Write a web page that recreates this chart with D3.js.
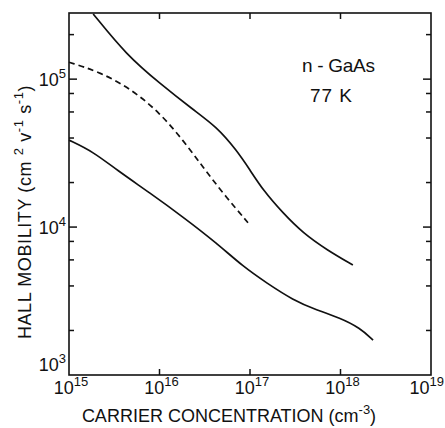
<!DOCTYPE html>
<meta charset="utf-8">
<head>
  <script src="https://d3js.org/d3.v7.min.js"></script>
  <style>
    html, body { margin: 0; padding: 0; background: #fff; }
    text { font-family: "Liberation Sans", Arial, sans-serif; fill: #111; }
    .curve { fill: none; stroke: #111; stroke-width: 1.7; }
  </style>
</head>
<body>
  <svg id="chart" width="445" height="428"></svg>
<script>
  // carrier concentration (cm^-3) / Hall mobility (cm^2 V^-1 s^-1)
  const upperConc = [1.85e15, 4.35e15, 1.01e16, 2.36e16, 4.28e16, 7.1e16, 1.0e17, 1.39e17, 2.32e17, 3.86e17, 7.1e17, 1.37e18]
  const upperMob = [2.76e5, 1.45e5, 9.35e4, 6.2e4, 4.76e4, 3.31e4, 2.43e4, 1.78e4, 1.24e4, 9.1e3, 7.0e3, 5.54e3]

  const dashConc = [1.0e15, 2.2e15, 5.1e15, 1.01e16, 1.82e16, 3.03e16, 5.0e16, 9.5e16]
  const dashMob = [1.30e5, 1.12e5, 8.4e4, 5.9e4, 3.87e4, 2.54e4, 1.70e4, 1.07e4]

  const lowerConc = [1.0e15, 1.85e15, 3.37e15, 7.85e15, 1.82e16, 4.28e16, 8.4e16, 1.53e17, 2.99e17, 5.46e17, 9.86e17, 1.64e18, 2.29e18]
  const lowerMob = [3.87e4, 3.23e4, 2.43e4, 1.70e4, 1.17e4, 7.8e3, 5.4e3, 4.19e3, 3.21e3, 2.75e3, 2.43e3, 2.08e3, 1.72e3]

  const xTickExp = [15, 16, 17, 18, 19]
  const yTickExp = [3, 4, 5]
  const yMinorTicks = [2e3, 4e3, 6e3, 8e3, 2e4, 4e4, 6e4, 8e4, 2e5]

  const svg = d3.select("#chart")
  const pLeft = 69, pRight = 431, pTop = 13, pBottom = 375

  const x = d3.scaleLog().domain([1e15, 1e19]).range([pLeft, pRight])
  const y = d3.scaleLog().domain([1e3, 2.8e5]).range([pBottom, pTop])

  // frame
  svg.append("rect")
    .attr("x", pLeft).attr("y", pTop)
    .attr("width", pRight - pLeft).attr("height", pBottom - pTop)
    .attr("fill", "none").attr("stroke", "#111").attr("stroke-width", 1.6)

  const ticks = svg.append("g").attr("stroke", "#111").attr("stroke-width", 1.5)
  xTickExp.slice(1, -1).forEach(e => {
    const px = x(Math.pow(10, e))
    ticks.append("line").attr("x1", px).attr("x2", px).attr("y1", pBottom).attr("y2", pBottom - 6)
    ticks.append("line").attr("x1", px).attr("x2", px).attr("y1", pTop).attr("y2", pTop + 6)
  })
  yTickExp.slice(1).forEach(e => {
    const py = y(Math.pow(10, e))
    ticks.append("line").attr("x1", pLeft).attr("x2", pLeft + 8).attr("y1", py).attr("y2", py)
    ticks.append("line").attr("x1", pRight).attr("x2", pRight - 8).attr("y1", py).attr("y2", py)
  })
  yMinorTicks.forEach(v => {
    const py = y(v)
    ticks.append("line").attr("x1", pLeft).attr("x2", pLeft + 5).attr("y1", py).attr("y2", py)
    ticks.append("line").attr("x1", pRight).attr("x2", pRight - 5).attr("y1", py).attr("y2", py)
  })

  // tick labels: 10 with superscript exponent
  function powerLabel(px, py, e, anchor) {
    const t = svg.append("text")
      .attr("x", px).attr("y", py)
      .attr("text-anchor", anchor)
      .attr("font-size", 18)
    t.append("tspan").text("10")
    t.append("tspan").attr("font-size", 13).attr("dy", -8).text(e)
  }
  xTickExp.forEach((e, i) => {
    if (i === xTickExp.length - 1) powerLabel(444, 394, e, "end")
    else powerLabel(x(Math.pow(10, e)) + 2, 394, e, "middle")
  })
  powerLabel(66, y(1e5) + 7, 5, "end")
  powerLabel(66, y(1e4) + 7, 4, "end")
  powerLabel(66, pBottom - 4, 3, "end")

  // curves
  const line = d3.line()
    .x(d => x(d[0]))
    .y(d => y(d[1]))
    .curve(d3.curveBasis)

  svg.append("path").attr("class", "curve")
    .attr("d", line(d3.zip(upperConc, upperMob)))
  svg.append("path").attr("class", "curve")
    .attr("stroke-dasharray", "6,4")
    .attr("d", line(d3.zip(dashConc, dashMob)))
  svg.append("path").attr("class", "curve")
    .attr("d", line(d3.zip(lowerConc, lowerMob)))

  // annotation
  svg.append("text").attr("x", 302).attr("y", 72).attr("font-size", 19)
    .attr("textLength", 73).text("n - GaAs")
  svg.append("text").attr("x", 310).attr("y", 102).attr("font-size", 19)
    .attr("textLength", 42).text("77 K")

  // axis titles
  const xt = svg.append("text")
    .attr("x", 229).attr("y", 422)
    .attr("text-anchor", "middle")
    .attr("font-size", 18)
  xt.append("tspan").text("CARRIER  CONCENTRATION  (cm")
  xt.append("tspan").attr("font-size", 13).attr("dy", -8).text("-3")
  xt.append("tspan").attr("dy", 8).text(")")

  const yt = svg.append("text")
    .attr("transform", "translate(31,212) rotate(-90)")
    .attr("text-anchor", "middle")
    .attr("font-size", 18)
    .attr("letter-spacing", 0.6)
  yt.append("tspan").text("HALL MOBILITY (cm ")
  yt.append("tspan").attr("font-size", 13).attr("dy", -8).text("2")
  yt.append("tspan").attr("dy", 8).text(" v")
  yt.append("tspan").attr("font-size", 13).attr("dy", -8).text("-1")
  yt.append("tspan").attr("dy", 8).text(" s")
  yt.append("tspan").attr("font-size", 13).attr("dy", -8).text("-1")
  yt.append("tspan").attr("dy", 8).text(")")
</script>
</body>
